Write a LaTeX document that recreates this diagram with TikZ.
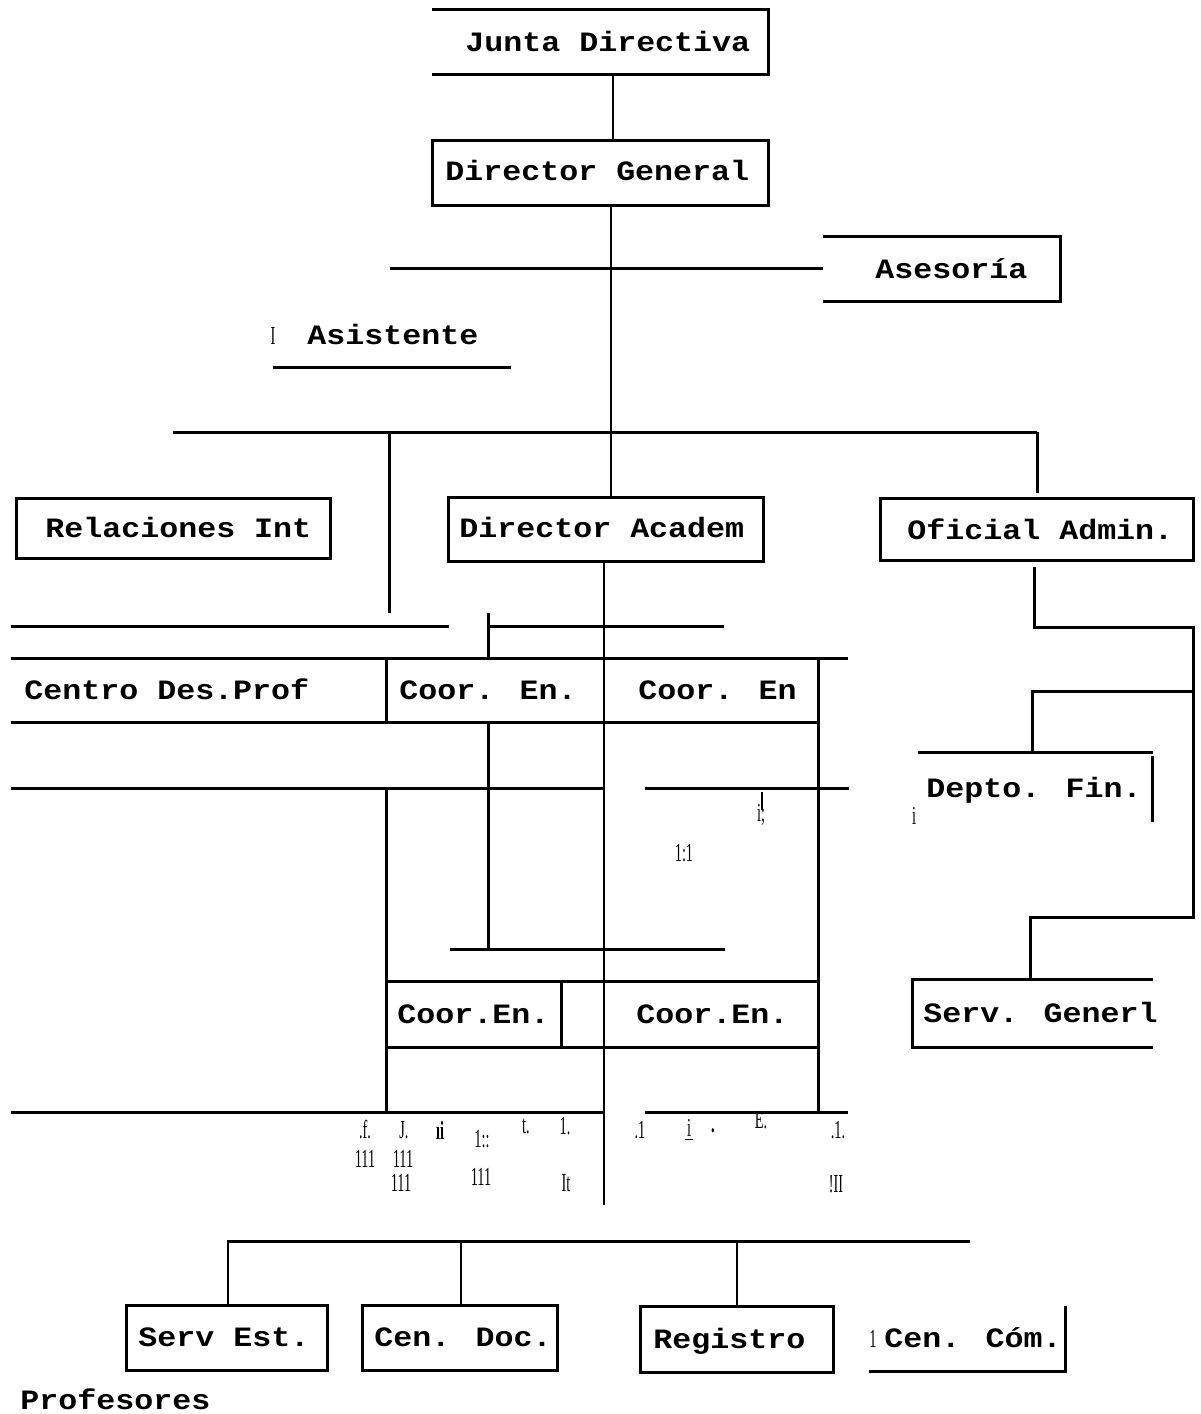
\documentclass[tikz,border=0pt]{standalone}
\usepackage{fontspec}
\usepackage{graphicx}
\setmainfont{Liberation Serif}
\newfontfamily\cour[FakeStretch=1.13]{Liberation Mono}
\newcommand\jnk[1]{\scalebox{0.55}[1]{#1}}
\tikzset{
  lbl/.style={font=\cour\bfseries\fontsize{14}{16}\selectfont, inner sep=0pt, anchor=west, text height=0.66em, text depth=0pt, yshift=-1.5pt},
  jk/.style={font=\fontsize{13}{14}\selectfont, inner sep=0pt},
  bx/.style={draw, line width=1.5pt, inner sep=0pt},
  ln/.style={line width=1.5pt},
  cn/.style={line width=1.1pt},
}
\begin{document}
\begin{tikzpicture}[x=0.5pt,y=-0.5pt]
\useasboundingbox (0,0) rectangle (1200,1414);

% ---------- Junta Directiva ----------
\draw[ln] (432,9) -- (768,9) -- (768,74) -- (432,74);
\node[lbl] (jd) at (465,42) {Junta Directiva};
\coordinate (jdB) at (613,74);

% ---------- Director General ----------
\node[bx, minimum width=168pt, minimum height=32.5pt] (dg) at (600,172.5) {};
\node[lbl] (dgt) at (445,171) {Director General};
\draw[cn] (jdB) -- (dg.north -| jdB);

% ---------- Asesoria ----------
\draw[ln] (823,236) -- (1060,236) -- (1060,301) -- (823,301);
\node[lbl] (ase) at (875,269) {Asesoría};
\coordinate (aseL) at (823,268);
\coordinate (aseW) at (390,268);
\draw[ln] (aseW) -- (aseL);

% ---------- Asistente ----------
\node[jk] (asI) at (273,336) {\jnk{I}};
\node[lbl] (ast) at (307,335) {Asistente};
\coordinate (astL) at (273,367);
\coordinate (astR) at (511,367);
\draw[ln] (astL) -- (astR);

% ---------- second level ----------
\node[bx, minimum width=157pt, minimum height=30pt] (rel) at (173,528) {};
\node[lbl] (relt) at (45,528) {Relaciones Int};
\node[bx, minimum width=157.5pt, minimum height=32pt] (da) at (605.5,529) {};
\node[lbl] (dat) at (459,528) {Director Academ};
\node[bx, minimum width=156.5pt, minimum height=31pt] (oa) at (1036.5,529) {};
\node[lbl] (oat) at (907,530) {Oficial Admin.};

\coordinate (dgB) at (611,205);
\draw[cn] (dgB) -- (da.north -| dgB);

\coordinate (h1L) at (173,432);
\coordinate (h1R) at (1037,432);
\draw[ln] (h1L) -- (h1R);
\coordinate (relV) at (389,613);
\draw[ln] (h1L -| relV) -- (relV);
\coordinate (oaV) at (1037,493);
\draw[ln] (h1R) -- (oaV);

% ---------- spine of Director Academ ----------
\coordinate (daB) at (604,561);
\coordinate (spEnd) at (604,1205);
\draw[line width=1.2pt] (daB) -- (spEnd);

% ---------- Oficial Admin branch ----------
\coordinate (oaB) at (1034,567);
\coordinate (rail) at (1193,627);
\draw[ln] (oaB) -- (1034,627) -- (rail) -- (1193,917) -- (1030,917) -- (1030,979);
\draw[ln] (1193,691) -- (1032,691) -- (1032,752);

% Depto. Fin.
\draw[ln] (918,752) -- (1153,752);
\draw[ln] (1152,756) -- (1152,822);
\node[lbl] (dfin) at (926,788) {Depto. Fin.};
\node[jk] (dfi) at (914,816) {\jnk{i}};

% Serv. Generl
\draw[ln] (1153,979) -- (912,979) -- (912,1047) -- (1153,1047);
\node[lbl] (sg) at (923,1013) {Serv. Generl};

% ---------- left / middle grid ----------
\draw[ln] (11,626) -- (449,626);
\draw[ln] (488,613) -- (488,658);
\draw[ln] (488,626) -- (724,626);
\draw[ln] (11,658) -- (848,658);
\draw[ln] (11,722) -- (818,722);
\draw[ln] (386,658) -- (386,722);
\draw[ln] (818,658) -- (818,1112);
\draw[ln] (488,722) -- (488,949);
\draw[ln] (11,788) -- (604,788);
\draw[ln] (645,788) -- (849,788);
\draw[ln] (386,788) -- (386,1112);
\draw[ln] (450,949) -- (725,949);
\draw[ln] (386,981) -- (818,981);
\draw[ln] (386,1047) -- (818,1047);
\draw[ln] (561,981) -- (561,1047);
\draw[ln] (11,1112) -- (604,1112);
\draw[ln] (645,1112) -- (848,1112);

\node[lbl] (cdp) at (24,690) {Centro Des.Prof};
\node[lbl] (ce1) at (399,690) {Coor. En.};
\node[lbl] (ce2) at (638,690) {Coor. En};
\node[lbl] (ce3) at (397,1014) {Coor.En.};
\node[lbl] (ce4) at (636,1014) {Coor.En.};

% stray marks
\draw[line width=0.6pt] (762,792) -- (762,810);
\node[jk] (m1) at (761,815) {\jnk{i;}};
\node[jk] (m2) at (684,853) {\jnk{1:1}};

\node[jk] (j1) at (365,1130) {\jnk{.f.}};
\node[jk] (j2) at (404,1130) {\jnk{J.}};
\node[jk] (j3) at (440,1130) {\jnk{\textbf{ıi}}};
\node[jk] (j4) at (482,1139) {\jnk{1::}};
\node[jk] (j5) at (526,1126) {\jnk{t.}};
\node[jk] (j6) at (565,1126) {\jnk{1.}};
\node[jk] (j7) at (365,1159) {\jnk{111}};
\node[jk] (j8) at (403,1159) {\jnk{111}};
\node[jk] (j9) at (401,1183) {\jnk{111}};
\node[jk] (j10) at (481,1177) {\jnk{111}};
\node[jk] (j11) at (566,1183) {\jnk{It}};
\node[jk] (j12) at (640,1130) {\jnk{.1}};
\node[jk] (j13) at (689,1130) {\jnk{\underline{\,i\,}}};
\node[jk] (j14) at (713,1131) {\jnk{\textbf{.}}};
\node[jk] (j15) at (761,1120) {\jnk{E.}};
\node[jk] (j16) at (838,1130) {\jnk{.1.}};
\node[jk] (j17) at (836,1184) {\jnk{!II}};

% ---------- bottom level ----------
\node[bx, minimum width=100.5pt, minimum height=32.5pt] (se) at (226.5,1337.5) {};
\node[lbl] (set) at (138,1337) {Serv Est.};
\node[bx, minimum width=97.5pt, minimum height=32.5pt] (cd) at (459.5,1337.5) {};
\node[lbl] (cdt) at (374,1337) {Cen. Doc.};
\node[bx, minimum width=96.5pt, minimum height=33pt] (rg) at (736.5,1339) {};
\node[lbl] (rgt) at (653,1339) {Registro};

\coordinate (bL) at (227,1241);
\coordinate (bR) at (970,1241);
\draw[ln] (bL) -- (bR);
\coordinate (b1) at (228,1241);
\coordinate (b2) at (461,1241);
\coordinate (b3) at (737,1241);
\draw[cn] (b1) -- (se.north -| b1);
\draw[cn] (b2) -- (cd.north -| b2);
\draw[cn] (b3) -- (rg.north -| b3);

\draw[ln] (1065,1306) -- (1065,1371) -- (869,1371);
\node[jk] (c1) at (873,1339) {\jnk{1}};
\node[lbl] (cct) at (884,1338) {Cen. Cóm.};

\node[lbl] (prof) at (20,1400) {Profesores};
\end{tikzpicture}
\end{document}
